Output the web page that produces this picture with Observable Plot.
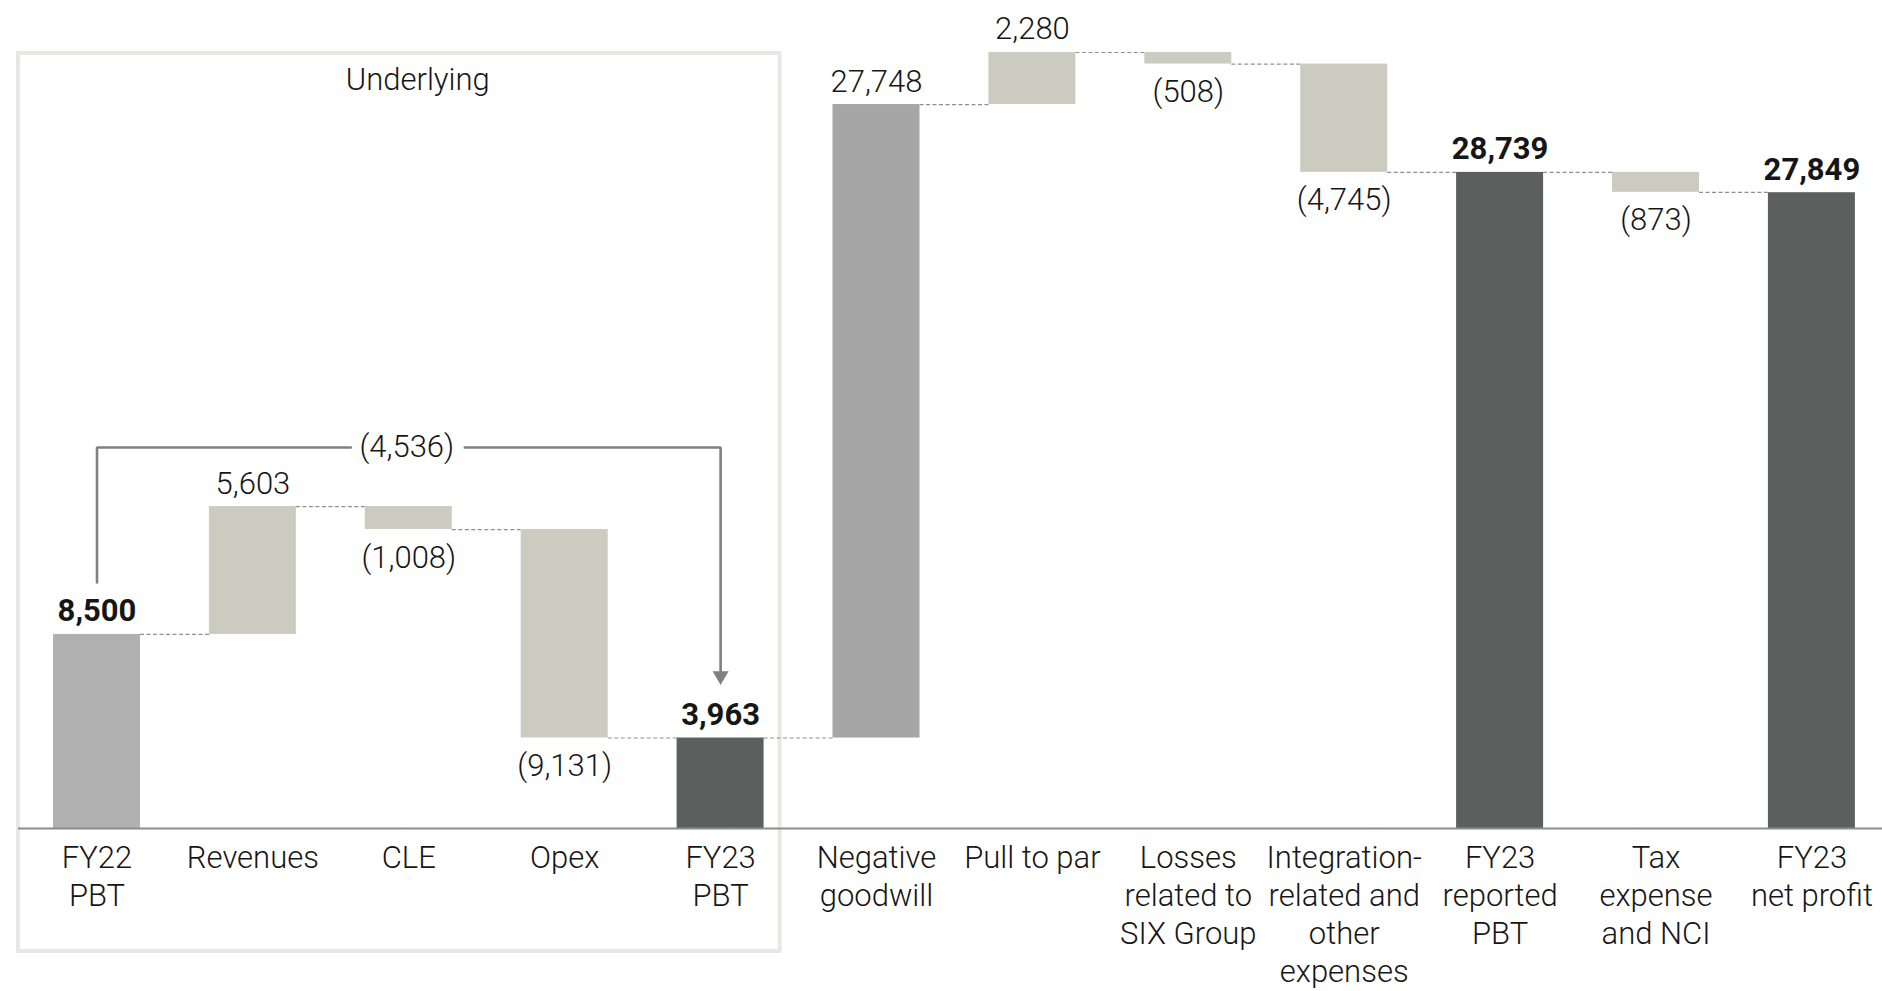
<!DOCTYPE html>
<html>
<head>
<meta charset="utf-8">
<script src="https://cdn.jsdelivr.net/npm/d3@7"></script>
<script src="https://cdn.jsdelivr.net/npm/@observablehq/plot@0.6"></script>
<style>
  html, body { margin: 0; padding: 0; background: #ffffff; }
  #chart svg { display: block; }
</style>
</head>
<body>
<div id="chart"></div>
<script>
// Profit bridge: underlying PBT FY22 -> FY23, then reported items down to FY23 net profit (USD m)
const categories = [
  "FY22\nPBT", "Revenues", "CLE", "Opex", "FY23\nPBT",
  "Negative\ngoodwill", "Pull to par", "Losses\nrelated to\nSIX Group",
  "Integration-\nrelated and\nother\nexpenses", "FY23\nreported\nPBT",
  "Tax\nexpense\nand NCI", "FY23\nnet profit"
];
const amounts = [8500, 5603, -1008, -9131, 3963, 27748, 2280, -508, -4745, 28739, -873, 27849];
const kinds = ["start", "change", "change", "change", "total", "goodwill", "change", "change", "change", "total", "change", "total"];
const bridgeAmount = -4536;          // FY22 PBT -> FY23 PBT, underlying
const groupTitle = "Underlying";

// ---- layout constants ----
const W = 1882, H = 991;
const marginLeft = 18, marginRight = 0, marginTop = 0, marginBottom = 163;
const plotH = H - marginTop - marginBottom;
const stepPx = 155.9;                 // distance between neighbouring bars
const barPx = 87;                     // bar width
const firstBarPx = 53;                // left edge of the first bar
const BW = barPx / stepPx;            // bar width in x units
const xMin = -(firstBarPx - marginLeft) / stepPx;
const xMax = xMin + (W - marginLeft - marginRight) / stepPx;
const yMax = 36268;
const perPx = yMax / plotH;           // value units per pixel

const font = "Roboto, 'Open Sans', sans-serif";
const ink = "#161616";
const colors = {start: "#b0b0b0", goodwill: "#a6a6a6", change: "#cccbbf", total: "#5d5f5e"};

// ---- waterfall geometry from the amounts ----
let level = 0;
const rows = categories.map((c, i) => {
  const v = amounts[i], kind = kinds[i];
  let lo, hi, end;
  if (kind === "start" || kind === "total") { lo = 0; hi = v; end = v; }
  else { end = level + v; lo = Math.min(level, end); hi = Math.max(level, end); }
  level = end;
  return {i, c, v, kind, lo, hi, end, cx: i + BW / 2};
});

const fmt = d3.format(",");
const labelOf = v => v < 0 ? `(${fmt(-v)})` : fmt(v);
const isTotal = d => d.kind === "start" || d.kind === "total";
const upPlain = rows.filter(d => d.v >= 0 && !isTotal(d));
const upBold = rows.filter(d => d.v >= 0 && isTotal(d));
const down = rows.filter(d => d.v < 0);

// bracket over the underlying section
const first = rows[0], last = rows[4];
const underlying = rows.slice(0, 5);
const bracketTop = d3.max(underlying, d => d.hi) + 59 * perPx;
const bracketStart = first.hi + 52 * perPx;
const arrowTip = last.hi + 53 * perPx;
const arrowR = 5.94;                                  // triangle size
const arrowCenter = arrowTip + 9.2 * perPx;
const bracketMid = (first.cx + last.cx) / 2;
const labelGap = 56 / stepPx;                         // half gap left for the bracket label
const bracketLeft = [
  {x: first.cx, y: bracketStart},
  {x: first.cx, y: bracketTop},
  {x: bracketMid - labelGap - 2 / stepPx, y: bracketTop}
];
const bracketRight = [
  {x: bracketMid + labelGap, y: bracketTop},
  {x: last.cx, y: bracketTop},
  {x: last.cx, y: arrowCenter}
];

// frame around the underlying section
const box = {
  x1: xMin, x2: last.i + BW + 16 / stepPx,
  y1: -123 * perPx, y2: (plotH - 53) * perPx
};

const textStyle = {fontSize: 31, fill: ink, fontFamily: font};

const chart = Plot.plot({
  width: W, height: H,
  marginLeft, marginRight, marginTop, marginBottom,
  style: {fontFamily: font, background: "#ffffff"},
  x: {domain: [xMin, xMax], axis: null},
  y: {domain: [0, yMax], axis: null},
  color: {type: "identity"},
  marks: [
    Plot.rect([box], {x1: "x1", x2: "x2", y1: "y1", y2: "y2", fill: "none", stroke: "#e8e8e3", strokeWidth: 4}),
    Plot.ruleY(rows.slice(0, -1), {
      y: "end", x1: d => d.i + BW, x2: d => d.i + 1,
      stroke: "#8f8f8f", strokeWidth: 1.2, strokeDasharray: "4,2.5"
    }),
    Plot.rectY(rows, {x1: "i", x2: d => d.i + BW, y1: "lo", y2: "hi", fill: d => colors[d.kind]}),
    Plot.ruleY([0], {stroke: "#8c8c8c", strokeWidth: 2}),
    // value labels
    Plot.text(upPlain, {x: "cx", y: "hi", text: d => labelOf(d.v), lineAnchor: "bottom", dy: -13, fontWeight: 300, ...textStyle}),
    Plot.text(upBold, {x: "cx", y: "hi", text: d => labelOf(d.v), lineAnchor: "bottom", dy: -13, fontWeight: 700, ...textStyle}),
    Plot.text(down, {x: "cx", y: "lo", text: d => labelOf(d.v), lineAnchor: "top", dy: 16, fontWeight: 300, ...textStyle}),
    // bracket with arrow
    Plot.line(bracketLeft, {x: "x", y: "y", stroke: "#808080", strokeWidth: 2.6, strokeLinejoin: "miter"}),
    Plot.line(bracketRight, {x: "x", y: "y", stroke: "#808080", strokeWidth: 2.6, strokeLinejoin: "miter"}),
    Plot.dot([bracketRight[2]], {x: "x", y: "y", symbol: "triangle", rotate: 180, r: arrowR, fill: "#808080", stroke: null}),
    Plot.text([labelOf(bridgeAmount)], {
      x: bracketMid, dx: -2, y: bracketTop, text: d => d, lineAnchor: "middle", fontWeight: 300, ...textStyle
    }),
    // group title
    Plot.text([groupTitle], {
      x: rows[2].cx, dx: 9, frameAnchor: "top", dy: 89, lineAnchor: "bottom", text: d => d,
      fontWeight: 300, ...textStyle
    }),
    // category axis
    Plot.axisX({
      ticks: rows.map(d => d.cx),
      tickFormat: t => categories[Math.round(t - BW / 2)],
      tickSize: 0, tickPadding: 13, fontSize: 31, lineHeight: 1.22,
      fill: ink, fontWeight: 300, label: null
    })
  ]
});

document.getElementById("chart").appendChild(chart);
</script>
</body>
</html>
